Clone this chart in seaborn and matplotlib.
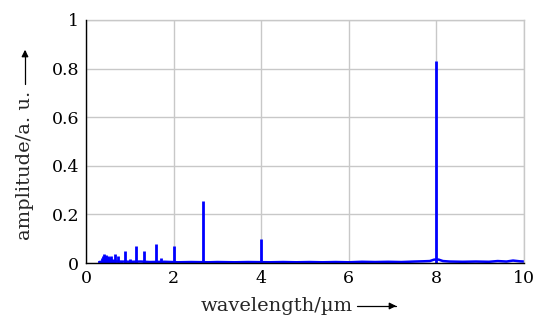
import matplotlib
matplotlib.use("Agg")
import matplotlib.pyplot as plt
import seaborn as sns
import pandas as pd

# spectral lines (wavelength in um, amplitude in a.u.)
peak_wl = [0.36, 0.39, 0.41, 0.43, 0.45, 0.48, 0.50, 0.53, 0.57, 0.62, 0.667,
           0.727, 0.80, 0.889, 1.0, 1.143, 1.333, 1.60, 1.714, 2.0, 2.667,
           3.2, 4.0, 8.0]
peak_amp = [0.022, 0.03, 0.035, 0.028, 0.033, 0.022, 0.03, 0.025, 0.03, 0.015, 0.035,
            0.03, 0.01, 0.05, 0.015, 0.07, 0.048, 0.08, 0.02, 0.072, 0.255,
            0.008, 0.10, 0.83]

# noise floor of the spectrum
floor_wl = [0.30, 0.55, 0.75, 1.05, 1.25, 1.45, 1.80, 2.1, 2.4, 2.8, 3.0, 3.4,
            3.7, 4.2, 4.5, 4.8, 5.1, 5.4, 5.7, 6.0, 6.3, 6.6, 6.9, 7.2, 7.5,
            7.7, 7.85, 7.95, 8.05, 8.15, 8.3, 8.6, 8.9, 9.2, 9.4, 9.6, 9.75, 9.9, 10.0]
floor_amp = [0.004, 0.008, 0.006, 0.005, 0.006, 0.004, 0.005, 0.003, 0.004, 0.003, 0.004, 0.003,
             0.004, 0.003, 0.004, 0.003, 0.004, 0.003, 0.004, 0.003, 0.005, 0.004, 0.005, 0.004, 0.006,
             0.007, 0.008, 0.014, 0.014, 0.008, 0.006, 0.005, 0.006, 0.005, 0.008, 0.006, 0.01, 0.007, 0.006]

x_ticks = [0, 2, 4, 6, 8, 10]
y_ticks = [0, 0.2, 0.4, 0.6, 0.8, 1]
y_tick_labels = ["0", "0.2", "0.4", "0.6", "0.8", "1"]

sns.set_theme(style="whitegrid")
plt.rcParams["font.family"] = ["DejaVu Serif"]

blue = "#0000ff"
grid_gray = "#c8c8c8"

fig = plt.figure(figsize=(5.35, 3.23), dpi=100)
ax = fig.add_axes([86 / 535, 60 / 323, 438 / 535, 243 / 323])

floor = pd.DataFrame({"wavelength": floor_wl, "amplitude": floor_amp})
sns.lineplot(data=floor, x="wavelength", y="amplitude", color=blue,
             linewidth=1.8, estimator=None, sort=True, ax=ax)
ax.vlines(peak_wl, 0, peak_amp, color=blue, linewidth=2.0)

ax.set_xlim(0, 10)
ax.set_ylim(0, 1)
ax.set_xticks(x_ticks)
ax.set_yticks(y_ticks)
ax.set_yticklabels(y_tick_labels)
ax.set_xlabel("")
ax.set_ylabel("")
ax.tick_params(length=0, labelsize=12.5, colors="black", pad=5)

ax.grid(True, color=grid_gray, linewidth=1.0)
ax.set_facecolor("white")
for side in ["top", "right"]:
    ax.spines[side].set_color(grid_gray)
    ax.spines[side].set_linewidth(1.0)
for side in ["left", "bottom"]:
    ax.spines[side].set_color("black")
    ax.spines[side].set_linewidth(1.0)
    ax.spines[side].set_zorder(5)

# axis labels with arrows
fig.text(277 / 535, 1 - 306 / 323, "wavelength/µm", ha="center", va="center", fontsize=14)
fig.add_artist(plt.Line2D([357 / 535, 396 / 535], [1 - 306 / 323, 1 - 306 / 323], color="black", lw=0.9))
ax.annotate("", xy=(399 / 535, 1 - 306 / 323), xycoords="figure fraction",
            xytext=(388 / 535, 1 - 306 / 323), textcoords="figure fraction",
            arrowprops=dict(arrowstyle="-|>", color="black", lw=0.9, mutation_scale=10))

fig.text(25 / 535, 1 - 165 / 323, "amplitude/a. u.", ha="center", va="center",
         rotation=90, fontsize=14)
fig.add_artist(plt.Line2D([25 / 535, 25 / 535], [1 - 84 / 323, 1 - 51 / 323], color="black", lw=0.9))
ax.annotate("", xy=(25 / 535, 1 - 47 / 323), xycoords="figure fraction",
            xytext=(25 / 535, 1 - 58 / 323), textcoords="figure fraction",
            arrowprops=dict(arrowstyle="-|>", color="black", lw=0.9, mutation_scale=10))

fig.savefig("out.png", dpi=100)
